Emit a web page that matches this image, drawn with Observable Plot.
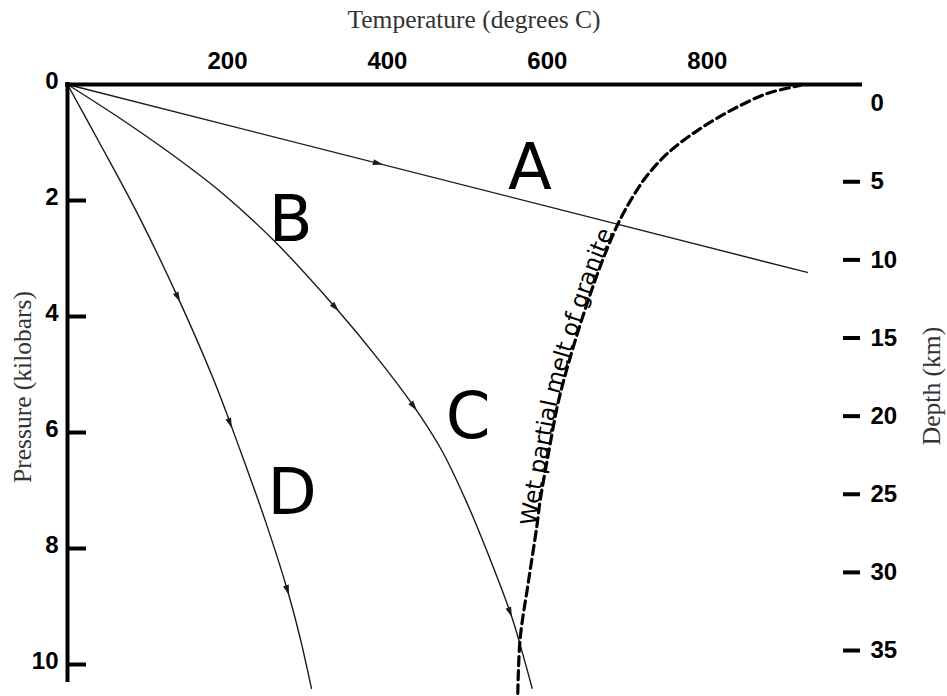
<!DOCTYPE html>
<html><head><meta charset="utf-8">
<script src="https://cdn.jsdelivr.net/npm/d3@7"></script>
<script src="https://cdn.jsdelivr.net/npm/@observablehq/plot@0.6"></script>
<style>body{margin:0;background:#fff}</style>
</head><body><div id="chart"></div>
<script>
// ---- data: temperature (°C) and pressure (kbar) ----
const pathA_T  = [0, 925];
const pathA_P  = [0, 3.24];
const pathBC_T = [0, 66, 129, 191, 258, 335, 390, 433, 468, 498, 524, 555, 568, 581];
const pathBC_P = [0, 0.586, 1.19, 1.845, 2.69, 3.845, 4.76, 5.55, 6.31, 7.17, 8.03, 9.16, 9.76, 10.41];
const pathD_T  = [0, 41, 88, 138, 183, 216, 248, 275, 291, 305];
const pathD_P  = [0, 1.03, 2.24, 3.67, 5.10, 6.31, 7.55, 8.72, 9.55, 10.41];
const melt_T   = [563, 566, 576, 587, 591, 602, 614, 631, 651, 669, 688, 704, 723, 750, 788, 829, 875, 916];
const melt_P   = [10.5, 9.55, 8.60, 7.60, 7.17, 6.31, 5.45, 4.59, 3.72, 3.03, 2.41, 2.00, 1.60, 1.19, 0.79, 0.45, 0.155, 0.017];
const arrowsA_P  = [1.36];
const arrowsBC_P = [3.845, 5.55, 9.10];
const arrowsD_P  = [3.67, 5.84, 8.72];
const pathLabels  = ["A", "B", "C", "D"];
const pathLabel_T = [578, 279, 501, 281];
const pathLabel_P = [1.45, 2.34, 5.74, 7.05];
const tempTicks     = [200, 400, 600, 800];
const pressureTicks = [0, 2, 4, 6, 8, 10];
const depthTicks    = [0, 5, 10, 15, 20, 25, 30, 35];
const meltLabel = "Wet partial melt of granite";
const meltLabelStartP = 7.62;
const xTitle = "Temperature (degrees C)";
const yTitle = "Pressure (kilobars)";
const y2Title = "Depth (km)";
// depth axis (km) expressed on the pressure scale
const depthZeroP = 0.33, kbarPerKm = 0.2694;

// ---- layout ----
const W = 947, H = 696, mT = 84, mL = 67, mR = 85, mB = 3;
const xMax = 994, yMax = 10.5, yAxisEnd = 10.31;
const kx = (W - mL - mR) / xMax;   // px per °C
const ky = (H - mT - mB) / yMax;   // px per kbar

const zip = (T, P) => T.map((t, i) => ({t, p: P[i]}));
const A = zip(pathA_T, pathA_P), BC = zip(pathBC_T, pathBC_P), D = zip(pathD_T, pathD_P);
const melt = zip(melt_T, melt_P);

function onCurve(S, p) {
  for (let i = 0; i < S.length - 1; i++) {
    const a = S[i], b = S[i + 1];
    if (p >= Math.min(a.p, b.p) && p <= Math.max(a.p, b.p)) {
      const f = (p - a.p) / (b.p - a.p);
      const angle = Math.atan2((b.t - a.t) * kx, -(b.p - a.p) * ky) * 180 / Math.PI;
      return {t: a.t + f * (b.t - a.t), p, angle};
    }
  }
}
const arrows = [
  ...arrowsA_P.map(p => onCurve(A, p)),
  ...arrowsBC_P.map(p => onCurve(BC, p)),
  ...arrowsD_P.map(p => onCurve(D, p))
];
const labels = pathLabels.map((s, i) => ({s, t: pathLabel_T[i], p: pathLabel_P[i]}));
const depthP = d => depthZeroP + d * kbarPerKm;

const tickFont = {fontSize: 24, fontWeight: "bold", fontFamily: "Liberation Sans", fill: "#000"};
const titleFont = {fontSize: 25.5, fontFamily: "Liberation Serif", fill: "#333", lineAnchor: "middle", textAnchor: "middle"};
const ink = "#1a1a1a";

const svg = Plot.plot({
  width: W, height: H,
  marginTop: mT, marginLeft: mL, marginRight: mR, marginBottom: mB,
  x: {domain: [0, xMax], axis: null},
  y: {domain: [0, yMax], reverse: true, axis: null},
  style: {background: "#fff", fontFamily: "Liberation Sans"},
  marks: [
    // paths
    Plot.line(A,  {x: "t", y: "p", stroke: ink, strokeWidth: 1.4}),
    Plot.line(BC, {x: "t", y: "p", stroke: ink, strokeWidth: 1.4, curve: "catmull-rom"}),
    Plot.line(D,  {x: "t", y: "p", stroke: ink, strokeWidth: 1.4, curve: "catmull-rom"}),
    Plot.line(melt, {x: "t", y: "p", stroke: "#000", strokeWidth: 3.2, strokeDasharray: "9,5",
                     curve: "catmull-rom"}),
    Plot.vector(arrows, {x: "t", y: "p", rotate: "angle", length: 10, r: 3, shape: "spike",
                         anchor: "middle", fill: ink, stroke: "none"}),
    Plot.text(labels, {x: "t", y: "p", text: "s", fontSize: 64, fontFamily: "DejaVu Sans", fill: "#000"}),
    // axis lines
    Plot.ruleY([0], {x1: -2 / kx, x2: xMax, strokeWidth: 4, stroke: "#000"}),
    Plot.ruleX([0], {y1: -2 / ky, y2: yAxisEnd, strokeWidth: 4, stroke: "#000"}),
    // pressure axis
    Plot.ruleY(pressureTicks.filter(v => v > 0), {y: d => d, x1: 0, x2: 19 / kx, strokeWidth: 4, stroke: "#000"}),
    Plot.text(pressureTicks, {x: 0, y: d => d, text: d => String(d), dx: -9, dy: -3, textAnchor: "end", ...tickFont}),
    // temperature axis
    Plot.text(tempTicks, {x: d => d, y: 0, text: d => String(d), dy: -23, ...tickFont}),
    // depth axis
    Plot.ruleY(depthTicks.filter(v => v > 0), {y: depthP, x1: xMax - 19 / kx, x2: xMax - 2 / kx, strokeWidth: 4, stroke: "#000"}),
    Plot.text(depthTicks, {x: xMax, y: depthP, text: d => String(d), dx: 8, textAnchor: "start", ...tickFont}),
    // titles
    Plot.text([xTitle], {frameAnchor: "top", dx: 9, dy: -65, ...titleFont}),
    Plot.text([yTitle], {frameAnchor: "left", dx: -45, dy: -2, rotate: -90, ...titleFont}),
    Plot.text([y2Title], {frameAnchor: "right", dx: 69, dy: -3, rotate: -90, ...titleFont})
  ]
});
document.getElementById("chart").append(svg);

// label written along the melt curve (path runs bottom -> top)
const mp = svg.querySelector('g[stroke-dasharray] path');
if (mp) {
  mp.setAttribute("id", "melt-path");
  // arc length (px) from the curve's lower end to where the label starts
  let offset = 0;
  for (let i = 0; i < melt.length - 1; i++) {
    const a = melt[i], b = melt[i + 1];
    const seg = Math.hypot((b.t - a.t) * kx, (b.p - a.p) * ky);
    if (b.p >= meltLabelStartP) { offset += seg; continue; }
    offset += seg * (a.p - meltLabelStartP) / (a.p - b.p);
    break;
  }
  const ns = "http://www.w3.org/2000/svg";
  const txt = document.createElementNS(ns, "text");
  txt.setAttribute("font-family", "DejaVu Sans");
  txt.setAttribute("font-size", "23");
  txt.setAttribute("fill", "#000");
  txt.setAttribute("stroke", "none");
  txt.setAttribute("text-anchor", "start");
  const tp = document.createElementNS(ns, "textPath");
  tp.setAttribute("href", "#melt-path");
  tp.setAttributeNS("http://www.w3.org/1999/xlink", "xlink:href", "#melt-path");
  tp.setAttribute("startOffset", String(offset));
  tp.textContent = meltLabel;
  txt.append(tp);
  svg.append(txt);
}
</script>
</body></html>
